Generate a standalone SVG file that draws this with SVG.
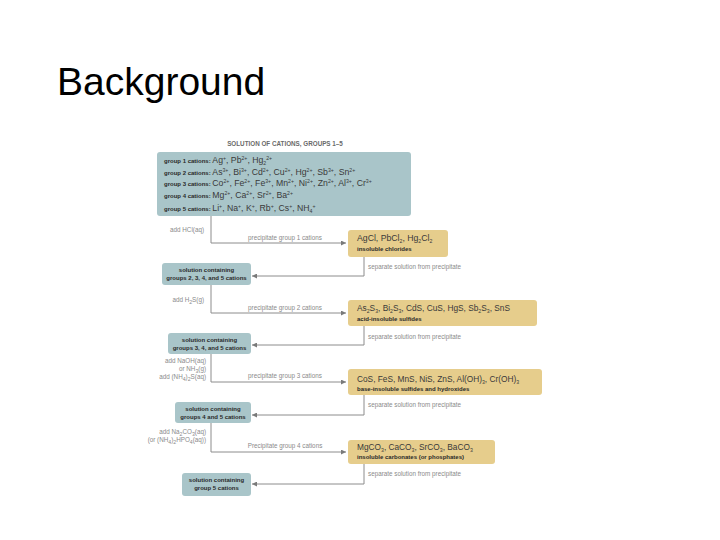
<svg xmlns="http://www.w3.org/2000/svg" width="720" height="540" viewBox="0 0 720 540">
<style>
.bx{fill:#a9c5c9}
.pp{fill:#e6cd8c}
.ln{stroke:#8c8c8c;stroke-width:1;fill:none}
.lbl{font-family:"Liberation Sans",Arial,sans-serif;font-size:6.3px;fill:#8a8a8a}
.r{text-anchor:end}
.t{font-family:"Liberation Sans",Arial,sans-serif;font-size:8.3px;fill:#3a3a3a}
.tt{font-size:8.7px}
.b{font-family:"Liberation Sans",Arial,sans-serif;font-size:6px;font-weight:bold;fill:#2a2a2a}
.c{text-anchor:middle}
.s{font-size:5.2px}
</style>
<defs>
<marker id="ah" viewBox="0 0 6 6" refX="6" refY="3" markerWidth="5" markerHeight="5" markerUnits="userSpaceOnUse" orient="auto">
<path d="M0,0 L6,3 L0,6 Z" fill="#7a7a7a"/>
</marker>
</defs>
<rect width="720" height="540" fill="#ffffff"/>
<text x="57" y="95" font-family="Liberation Sans,Arial,sans-serif" font-size="39" fill="#000">Background</text>

<g id="connectors">
<path class="ln" d="M211 216 V243 H346" marker-end="url(#ah)"/>
<path class="ln" d="M364 257 V276 H252" marker-end="url(#ah)"/>
<path class="ln" d="M211 285 V313 H346" marker-end="url(#ah)"/>
<path class="ln" d="M364 326 V345 H252" marker-end="url(#ah)"/>
<path class="ln" d="M211 354 V382 H346" marker-end="url(#ah)"/>
<path class="ln" d="M364 395 V415 H252" marker-end="url(#ah)"/>
<path class="ln" d="M211 423 V452 H346" marker-end="url(#ah)"/>
<path class="ln" d="M364 464 V484 H252" marker-end="url(#ah)"/>
<text class="lbl r" x="204" y="232">add HCl(aq)</text>
<text class="lbl c" x="285" y="240">precipitate group 1 cations</text>
<text class="lbl" x="368" y="269">separate solution from precipitate</text>
<text class="lbl r" x="204" y="302">add H<tspan class="s" dy="1.5">2</tspan><tspan dy="-1.5">S(g)</tspan></text>
<text class="lbl c" x="285" y="310">precipitate group 2 cations</text>
<text class="lbl" x="368" y="339">separate solution from precipitate</text>
<text class="lbl r" x="206" y="363">add NaOH(aq)</text>
<text class="lbl r" x="206" y="371">or NH<tspan class="s" dy="1.5">3</tspan><tspan dy="-1.5">(g)</tspan></text>
<text class="lbl r" x="206" y="379">add (NH<tspan class="s" dy="1.5">4</tspan><tspan dy="-1.5">)</tspan><tspan class="s" dy="1.5">2</tspan><tspan dy="-1.5">S(aq)</tspan></text>
<text class="lbl c" x="285" y="378">precipitate group 3 cations</text>
<text class="lbl" x="368" y="407">separate solution from precipitate</text>
<text class="lbl r" x="206" y="434">add Na<tspan class="s" dy="1.5">2</tspan><tspan dy="-1.5">CO</tspan><tspan class="s" dy="1.5">3</tspan><tspan dy="-1.5">(aq)</tspan></text>
<text class="lbl r" x="206" y="442">(or (NH<tspan class="s" dy="1.5">4</tspan><tspan dy="-1.5">)</tspan><tspan class="s" dy="1.5">2</tspan><tspan dy="-1.5">HPO</tspan><tspan class="s" dy="1.5">4</tspan><tspan dy="-1.5">(aq))</tspan></text>
<text class="lbl c" x="285" y="448">Precipitate group 4 cations</text>
<text class="lbl" x="368" y="476">separate solution from precipitate</text>
</g>

<text x="285" y="146" font-family="Liberation Sans,Arial,sans-serif" font-size="6.3" font-weight="bold" fill="#6a6a6a" text-anchor="middle">SOLUTION OF CATIONS, GROUPS 1–5</text>

<g id="start">
<rect class="bx" x="157" y="152" width="254" height="64" rx="3"/>
<text class="t tt" x="164" y="163"><tspan class="b">group 1 cations: </tspan>Ag<tspan class="s" dy="-3">+</tspan><tspan dy="3">, Pb</tspan><tspan class="s" dy="-3">2+</tspan><tspan dy="3">, Hg</tspan><tspan class="s" dy="1.5">2</tspan><tspan class="s" dy="-4.5">2+</tspan></text>
<text class="t tt" x="164" y="175"><tspan class="b">group 2 cations: </tspan>As<tspan class="s" dy="-3">3+</tspan><tspan dy="3">, Bi</tspan><tspan class="s" dy="-3">3+</tspan><tspan dy="3">, Cd</tspan><tspan class="s" dy="-3">2+</tspan><tspan dy="3">, Cu</tspan><tspan class="s" dy="-3">2+</tspan><tspan dy="3">, Hg</tspan><tspan class="s" dy="-3">2+</tspan><tspan dy="3">, Sb</tspan><tspan class="s" dy="-3">3+</tspan><tspan dy="3">, Sn</tspan><tspan class="s" dy="-3">2+</tspan></text>
<text class="t tt" x="164" y="186"><tspan class="b">group 3 cations: </tspan>Co<tspan class="s" dy="-3">2+</tspan><tspan dy="3">, Fe</tspan><tspan class="s" dy="-3">2+</tspan><tspan dy="3">, Fe</tspan><tspan class="s" dy="-3">3+</tspan><tspan dy="3">, Mn</tspan><tspan class="s" dy="-3">2+</tspan><tspan dy="3">, Ni</tspan><tspan class="s" dy="-3">2+</tspan><tspan dy="3">, Zn</tspan><tspan class="s" dy="-3">2+</tspan><tspan dy="3">, Al</tspan><tspan class="s" dy="-3">3+</tspan><tspan dy="3">, Cr</tspan><tspan class="s" dy="-3">3+</tspan></text>
<text class="t tt" x="164" y="198"><tspan class="b">group 4 cations: </tspan>Mg<tspan class="s" dy="-3">2+</tspan><tspan dy="3">, Ca</tspan><tspan class="s" dy="-3">2+</tspan><tspan dy="3">, Sr</tspan><tspan class="s" dy="-3">2+</tspan><tspan dy="3">, Ba</tspan><tspan class="s" dy="-3">2+</tspan></text>
<text class="t tt" x="164" y="211"><tspan class="b">group 5 cations: </tspan>Li<tspan class="s" dy="-3">+</tspan><tspan dy="3">, Na</tspan><tspan class="s" dy="-3">+</tspan><tspan dy="3">, K</tspan><tspan class="s" dy="-3">+</tspan><tspan dy="3">, Rb</tspan><tspan class="s" dy="-3">+</tspan><tspan dy="3">, Cs</tspan><tspan class="s" dy="-3">+</tspan><tspan dy="3">, NH</tspan><tspan class="s" dy="1.5">4</tspan><tspan class="s" dy="-4.5">+</tspan></text>
</g>

<g id="ppt1">
<rect class="pp" x="348" y="230" width="100" height="27" rx="3"/>
<text class="t tt" x="357" y="241">AgCl, PbCl<tspan class="s" dy="1.5">2</tspan><tspan dy="-1.5">, Hg</tspan><tspan class="s" dy="1.5">2</tspan><tspan dy="-1.5">Cl</tspan><tspan class="s" dy="1.5">2</tspan></text>
<text class="b" x="357" y="251">insoluble chlorides</text>
</g>
<g id="sol2">
<rect class="bx" x="162" y="263" width="89" height="22" rx="3"/>
<text class="b c" x="206.5" y="272">solution containing</text>
<text class="b c" x="206.5" y="280">groups 2, 3, 4, and 5 cations</text>
</g>

<g id="ppt2">
<rect class="pp" x="348" y="300" width="189" height="26" rx="3"/>
<text class="t" x="357" y="311">As<tspan class="s" dy="1.5">2</tspan><tspan dy="-1.5">S</tspan><tspan class="s" dy="1.5">3</tspan><tspan dy="-1.5">, Bi</tspan><tspan class="s" dy="1.5">2</tspan><tspan dy="-1.5">S</tspan><tspan class="s" dy="1.5">3</tspan><tspan dy="-1.5">, CdS, CuS, HgS, Sb</tspan><tspan class="s" dy="1.5">2</tspan><tspan dy="-1.5">S</tspan><tspan class="s" dy="1.5">3</tspan><tspan dy="-1.5">, SnS</tspan></text>
<text class="b" x="357" y="321">acid-insoluble sulfides</text>
</g>
<g id="sol3">
<rect class="bx" x="168" y="333" width="83" height="21" rx="3"/>
<text class="b c" x="209.5" y="342">solution containing</text>
<text class="b c" x="209.5" y="350">groups 3, 4, and 5 cations</text>
</g>

<g id="ppt3">
<rect class="pp" x="348" y="369" width="194" height="26" rx="3"/>
<text class="t" x="357" y="382">CoS, FeS, MnS, NiS, ZnS, Al(OH)<tspan class="s" dy="1.5">3</tspan><tspan dy="-1.5">, Cr(OH)</tspan><tspan class="s" dy="1.5">3</tspan></text>
<text class="b" x="357" y="391">base-insoluble sulfides and hydroxides</text>
</g>
<g id="sol4">
<rect class="bx" x="175" y="402" width="76" height="21" rx="3"/>
<text class="b c" x="213" y="411">solution containing</text>
<text class="b c" x="213" y="419">groups 4 and 5 cations</text>
</g>

<g id="ppt4">
<rect class="pp" x="348" y="440" width="147" height="24" rx="3"/>
<text class="t" x="357" y="450">MgCO<tspan class="s" dy="1.5">3</tspan><tspan dy="-1.5">, CaCO</tspan><tspan class="s" dy="1.5">3</tspan><tspan dy="-1.5">, SrCO</tspan><tspan class="s" dy="1.5">3</tspan><tspan dy="-1.5">, BaCO</tspan><tspan class="s" dy="1.5">3</tspan></text>
<text class="b" x="357" y="459">insoluble carbonates (or phosphates)</text>
</g>
<g id="sol5">
<rect class="bx" x="182" y="473" width="69" height="23" rx="3"/>
<text class="b c" x="216.5" y="482">solution containing</text>
<text class="b c" x="216.5" y="490">group 5 cations</text>
</g>
</svg>
